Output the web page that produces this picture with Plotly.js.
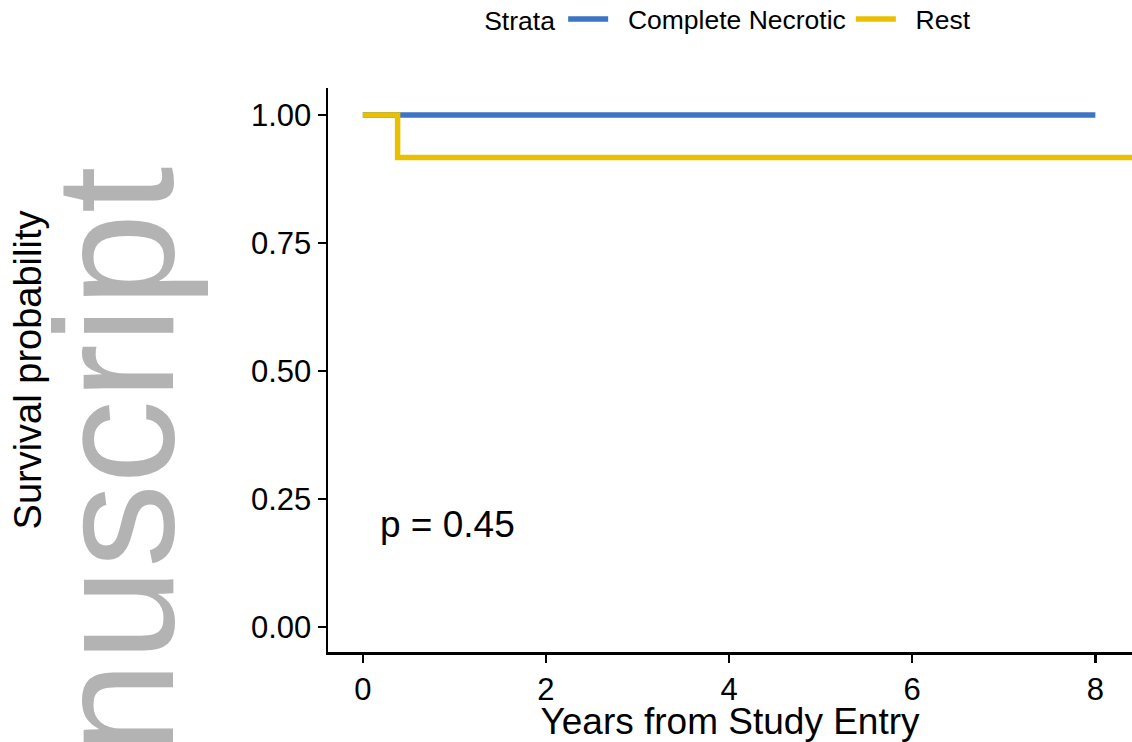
<!DOCTYPE html>
<html>
<head>
<meta charset="utf-8">
<script src="https://cdn.plot.ly/plotly-3.0.1.min.js"></script>
<style>html,body{margin:0;padding:0;background:#fff;}#chart{width:1132px;height:742px;}</style>
</head>
<body>
<div id="chart"></div>
<script>
// Data
var strataNames = ["Complete Necrotic", "Rest"];
var timeCompleteNecrotic = [0, 8.0];
var survCompleteNecrotic = [1.0, 1.0];
var timeRest = [0, 0.38, 8.5];
var survRest = [1.0, 0.917, 0.917];
var xTickVals = [0, 2, 4, 6, 8];
var yTickVals = [0, 0.25, 0.5, 0.75, 1.0];
var yTickText = ["0.00", "0.25", "0.50", "0.75", "1.00"];
var pValueText = "p = 0.45";
var pValuePos = [0.17, 0.2];
var watermarkText = "nuscript";

var FONT = "Liberation Sans, Arial, Helvetica, sans-serif";
var GAP = "\u00a0\u00a0";

var traces = [
  {
    x: timeCompleteNecrotic, y: survCompleteNecrotic, name: GAP + strataNames[0],
    type: "scatter", mode: "lines", line: {shape: "hv", color: "#3D74C5", width: 5.5}
  },
  {
    x: timeRest, y: survRest, name: GAP + strataNames[1],
    type: "scatter", mode: "lines", line: {shape: "hv", color: "#E8C000", width: 5.5}
  }
];

var layout = {
  width: 1132, height: 742,
  margin: {l: 328, r: 0, t: 88, b: 90, pad: 0, autoexpand: false},
  paper_bgcolor: "#fff", plot_bgcolor: "#fff",
  font: {family: FONT, color: "#000"},
  showlegend: true,
  legend: {
    orientation: "h", x: 0.499, xanchor: "center", y: 1.122, yanchor: "middle",
    font: {size: 26.5, color: "#000", family: FONT},
    title: {text: "Strata", side: "left", font: {size: 26.5, color: "#000", family: FONT}},
    itemwidth: 40, bgcolor: "rgba(0,0,0,0)"
  },
  xaxis: {
    range: [-0.38, 8.40], tickvals: xTickVals, ticktext: xTickVals.map(String),
    showgrid: false, zeroline: false, showline: true, linecolor: "#000", linewidth: 2.5,
    ticks: "outside", ticklen: 8, tickwidth: 2.5, tickcolor: "#000",
    tickfont: {size: 31, color: "#000", family: FONT},
    title: {text: "Years from Study Entry", font: {size: 37, color: "#000", family: FONT}, standoff: 2}
  },
  yaxis: {
    range: [-0.0488, 1.0527], tickvals: yTickVals, ticktext: yTickText,
    showgrid: false, zeroline: false, showline: true, linecolor: "#000", linewidth: 2.5,
    ticks: "outside", ticklen: 8, tickwidth: 2.5, tickcolor: "#000",
    tickfont: {size: 31, color: "#000", family: FONT},
    title: {text: "Survival probability", font: {size: 38, color: "#000", family: FONT}, standoff: 198}
  },
  annotations: [
    {
      xref: "x", yref: "y", x: pValuePos[0], y: pValuePos[1], xanchor: "left", yanchor: "middle",
      text: pValueText, showarrow: false, font: {size: 37, color: "#000", family: FONT}
    },
    {
      xref: "paper", yref: "paper", x: -0.265, y: 0.3387, xanchor: "center", yanchor: "middle",
      text: watermarkText, textangle: -90, showarrow: false,
      font: {size: 168, color: "#B3B3B3", family: FONT}
    }
  ]
};

Plotly.newPlot("chart", traces, layout, {displayModeBar: false, staticPlot: true});
</script>
</body>
</html>
